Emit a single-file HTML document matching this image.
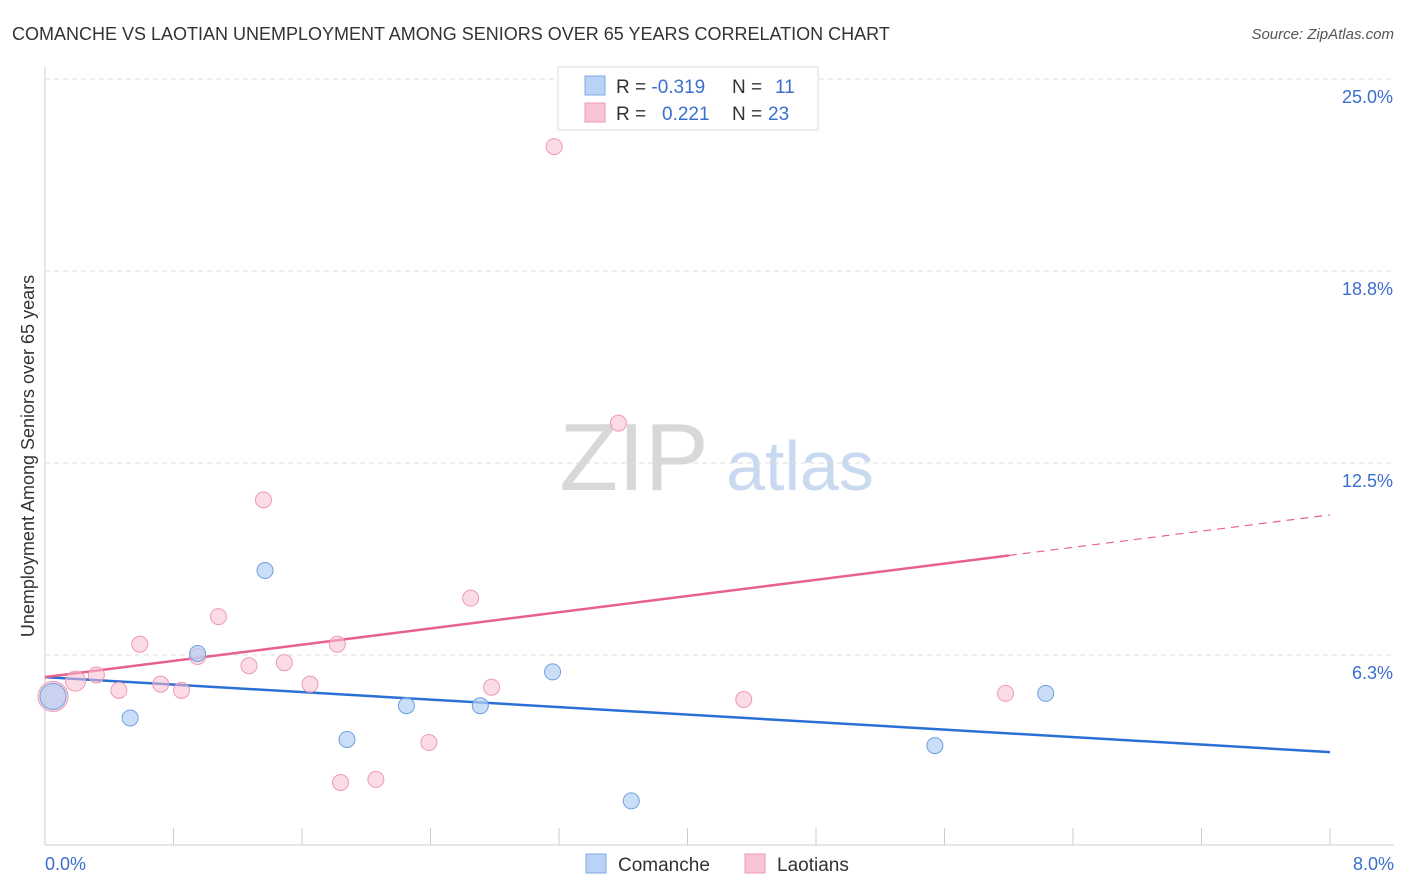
<!DOCTYPE html>
<html><head><meta charset="utf-8"><style>
body{margin:0;background:#fff;font-family:"Liberation Sans",sans-serif;}
#wrap{position:relative;width:1406px;height:892px;overflow:hidden;}
svg text{font-family:"Liberation Sans",sans-serif;}
</style></head><body>
<div id="wrap">
<svg id="svg" width="1406" height="892">
<text x="12" y="40" font-size="18" fill="#333">COMANCHE VS LAOTIAN UNEMPLOYMENT AMONG SENIORS OVER 65 YEARS CORRELATION CHART</text>
<text x="1394" y="39" font-size="15" fill="#555" font-style="italic" text-anchor="end">Source: ZipAtlas.com</text>
<text x="634" y="490" font-size="96" fill="#d8d8d8" font-family="Liberation Serif" text-anchor="middle">ZIP</text>
<text x="800" y="490" font-size="70" fill="#c9d9f0" text-anchor="middle">atlas</text>
<text transform="translate(34,456) rotate(-90)" font-size="18" fill="#333" text-anchor="middle">Unemployment Among Seniors over 65 years</text>
<g id="grid"></g><g id="lines"></g><g id="pts"></g>
<g>
<rect x="558" y="67" width="260" height="63" fill="#fff" stroke="#ddd"/>
<rect x="585" y="76" width="20" height="19" fill="#b9d3f7" stroke="#7fa9e6"/>
<rect x="585" y="103" width="20" height="19" fill="#f9c5d5" stroke="#ee9ab3"/>
<text x="616" y="93" font-size="19" fill="#333">R = <tspan fill="#3a6fd0">-0.319</tspan><tspan x="732">N = </tspan><tspan x="775" fill="#3a6fd0">11</tspan></text>
<text x="616" y="120" font-size="19" fill="#333">R = <tspan x="662" fill="#3a6fd0">0.221</tspan><tspan x="732">N = </tspan><tspan x="768" fill="#3a6fd0">23</tspan></text>
</g>
<g>
<rect x="586" y="854" width="20" height="19" fill="#b9d3f7" stroke="#7fa9e6"/>
<text x="618" y="871" font-size="19" fill="#333">Comanche</text>
<rect x="745" y="854" width="20" height="19" fill="#f9c5d5" stroke="#ee9ab3"/>
<text x="777" y="871" font-size="19" fill="#333">Laotians</text>
</g>
<text x="45" y="870" font-size="18" fill="#3a6fd0">0.0%</text>
<text x="1394" y="870" font-size="18" fill="#3a6fd0" text-anchor="end">8.0%</text>
</svg>
</div>
<script>
const yTicks=[25.0,18.8,12.5,6.3];
const yTickVals=[25,18.75,12.5,6.25];
const comancheX=[0.05,0.53,0.95,1.37,1.88,2.25,2.71,3.16,3.65,5.54,6.23];
const comancheY=[4.9,4.2,6.3,9.0,3.5,4.6,4.6,5.7,1.5,3.3,5.0];
const comancheR=[13,8,8,8,8,8,8,8,8,8,8];
const laoX=[0.05,0.19,0.32,0.46,0.59,0.72,0.85,0.95,1.08,1.27,1.36,1.49,1.65,1.82,1.84,2.06,2.39,2.65,2.78,3.17,3.57,4.35,5.98];
const laoY=[4.9,5.4,5.6,5.1,6.6,5.3,5.1,6.2,7.5,5.9,11.3,6.0,5.3,6.6,2.1,2.2,3.4,8.1,5.2,22.8,13.8,4.8,5.0];
const laoR=[15,10,8,8,8,8,8,8,8,8,8,8,8,8,8,8,8,8,8,8,8,8,8];
const comancheTrend=[5.53,3.09];
const laoTrend=[5.53,10.81];
const laoSolidEnd=6.0;
const xMax=8;
const X=v=>45+v*(1330-45)/xMax;
const Y=v=>847-v*30.72;
const NS="http://www.w3.org/2000/svg";
function mk(tag,attrs,parent){const e=document.createElementNS(NS,tag);for(const k in attrs)e.setAttribute(k,attrs[k]);document.getElementById(parent).appendChild(e);return e;}
mk('line',{x1:45,y1:845,x2:1394,y2:845,stroke:'#ccc'},'grid');
mk('line',{x1:45,y1:67,x2:45,y2:845,stroke:'#ccc'},'grid');
for(let i=0;i<=10;i++){const t=mk('line',{x1:X(i*0.8),y1:828,x2:X(i*0.8),y2:845,stroke:'#ccc'},'grid');

}
yTickVals.forEach((v,i)=>{const l=mk('line',{x1:45,y1:Y(v),x2:1394,y2:Y(v),stroke:'#ddd','stroke-dasharray':'5,4'},'grid');


const t=mk('text',{x:1393,y:Y(v)+24,'font-size':18,fill:'#3a6fd0','text-anchor':'end'},'grid');t.textContent=yTicks[i].toFixed(1)+'%';

});
const lb=mk('line',{x1:X(0),y1:Y(comancheTrend[0]),x2:X(xMax),y2:Y(comancheTrend[1]),stroke:'#2a6fd6','stroke-width':2.5},'lines');


const ly=v=>laoTrend[0]+(laoTrend[1]-laoTrend[0])*v/xMax;
const lp=mk('line',{x1:X(0),y1:Y(laoTrend[0]),x2:X(laoSolidEnd),y2:Y(ly(laoSolidEnd)),stroke:'#e8608c','stroke-width':2.5},'lines');


const ld=mk('line',{x1:X(laoSolidEnd),y1:Y(ly(laoSolidEnd)),x2:X(xMax),y2:Y(laoTrend[1]),stroke:'#e8608c','stroke-width':1.2,'stroke-dasharray':'8,6'},'lines');


laoX.forEach((x,i)=>{const c=mk('circle',{cx:X(x),cy:Y(laoY[i]),r:laoR[i],fill:'rgba(248,190,208,0.55)',stroke:'#ee9ab3','stroke-width':1},'pts');

});
comancheX.forEach((x,i)=>{const c=mk('circle',{cx:X(x),cy:Y(comancheY[i]),r:comancheR[i],fill:'rgba(180,208,245,0.7)',stroke:'#6f9fe0','stroke-width':1},'pts');

});
</script>
</body></html>
